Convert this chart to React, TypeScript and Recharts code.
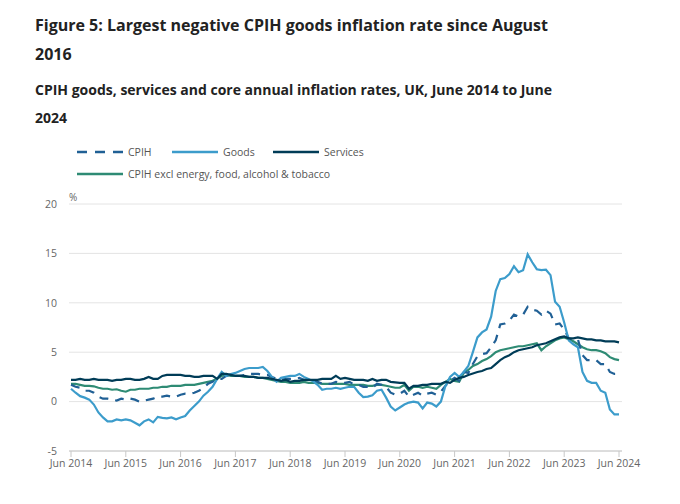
import { LineChart, Line, XAxis, YAxis, CartesianGrid } from 'recharts';

// Monthly annual rates, Jun 2014 .. Jun 2024 (121 points)
const cpih = [
  1.7, 1.5, 1.4, 1.1, 1.1, 0.9, 0.5,
  0.3, 0.3, 0.2, 0.1, 0.3, 0.2, 0.3, 0.2, 0.0, 0.1, 0.2, 0.3,
  0.5, 0.5, 0.6, 0.5, 0.5, 0.7, 0.8, 0.8, 0.9, 1.1, 1.4, 1.8,
  2.0, 2.3, 2.3, 2.6, 2.7, 2.6, 2.6, 2.7, 2.8, 2.8, 2.8, 2.7,
  2.7, 2.5, 2.3, 2.2, 2.3, 2.3, 2.3, 2.4, 2.2, 2.2, 2.2, 2.0,
  1.8, 1.8, 1.8, 2.0, 1.9, 1.9, 2.0, 1.7, 1.7, 1.5, 1.5, 1.4,
  1.8, 1.7, 1.5, 0.9, 0.7, 0.8, 1.1, 0.5, 0.7, 0.9, 0.6, 0.8,
  0.9, 0.7, 1.0, 1.6, 2.1, 2.4, 2.1, 3.0, 2.9, 3.8, 4.6, 4.8,
  4.9, 5.5, 6.2, 7.8, 7.9, 8.2, 8.8, 8.6, 8.8, 9.6, 9.3, 9.2,
  8.8, 9.2, 8.9, 7.8, 7.9, 7.3, 6.4, 6.3, 6.3, 4.7, 4.2, 4.2,
  4.2, 3.8, 3.8, 3.0, 2.8, 2.8,
];

const goods = [
  1.3, 0.9, 0.55, 0.4, 0.2, -0.3, -1.1,
  -1.6, -2.0, -2.0, -1.8, -1.9, -1.8, -1.9, -2.15, -2.4, -2.0, -1.8, -2.1,
  -1.55, -1.65, -1.7, -1.6, -1.8, -1.6, -1.45, -0.9, -0.45, 0.0, 0.6, 1.0,
  1.5, 2.3, 3.0, 2.6, 2.8, 2.9, 3.1, 3.3, 3.4, 3.4, 3.4, 3.5,
  3.1, 2.5, 2.0, 2.4, 2.5, 2.6, 2.6, 2.8, 2.5, 2.3, 2.05, 1.7,
  1.2, 1.3, 1.3, 1.4, 1.3, 1.4, 1.5, 1.5, 0.9, 0.45, 0.5, 0.65,
  1.1, 1.2, 0.4, -0.5, -0.9, -0.6, -0.3, -0.1, 0.0, -0.1, -0.7, -0.1,
  -0.2, -0.5, 0.0, 1.6, 2.5, 2.9, 2.5, 3.0, 3.6, 5.0, 6.5, 7.0,
  7.3, 8.6, 11.2, 12.4, 12.5, 12.9, 13.7, 13.1, 13.3, 14.9, 14.1, 13.4,
  13.3, 13.35, 12.8, 10.1, 9.6, 8.0, 6.2, 5.8, 5.5, 3.0, 2.1, 1.9,
  1.9, 1.1, 0.9, -0.8, -1.3, -1.3,
];

const services = [
  2.2, 2.2, 2.3, 2.2, 2.2, 2.3, 2.2,
  2.2, 2.2, 2.1, 2.2, 2.2, 2.3, 2.3, 2.2, 2.2, 2.3, 2.5, 2.3,
  2.3, 2.6, 2.7, 2.7, 2.7, 2.7, 2.6, 2.6, 2.5, 2.5, 2.6, 2.6,
  2.6, 2.3, 2.8, 2.8, 2.7, 2.6, 2.6, 2.6, 2.5, 2.5, 2.4, 2.4,
  2.4, 2.3, 2.2, 2.1, 2.2, 2.0, 2.1, 2.1, 2.2, 2.2, 2.2, 2.2,
  2.3, 2.3, 2.3, 2.6, 2.3, 2.4, 2.3, 2.2, 2.2, 2.2, 2.1, 2.3,
  2.1, 2.2, 2.2, 2.0, 1.95, 1.9, 1.9, 1.3, 1.6, 1.6, 1.7, 1.7,
  1.8, 1.8, 1.8, 2.0, 1.9, 2.2, 2.4, 2.5, 2.7, 2.85, 3.0, 3.1,
  3.3, 3.4, 3.8, 4.2, 4.5, 4.7, 5.0, 5.2, 5.3, 5.4, 5.5, 5.7,
  5.8, 5.9, 6.1, 6.3, 6.5, 6.6, 6.4, 6.4, 6.5, 6.4, 6.3, 6.3,
  6.2, 6.2, 6.1, 6.1, 6.1, 6.0,
];

const core = [
  1.8, 1.8, 1.7, 1.6, 1.6, 1.55, 1.4,
  1.3, 1.3, 1.2, 1.25, 1.1, 1.0, 1.2, 1.2, 1.3, 1.3, 1.3, 1.4,
  1.4, 1.5, 1.5, 1.6, 1.6, 1.6, 1.7, 1.7, 1.7, 1.8, 1.9, 2.0,
  2.1, 2.3, 2.6, 2.7, 2.6, 2.6, 2.6, 2.5, 2.5, 2.5, 2.4, 2.4,
  2.3, 2.2, 2.1, 2.0, 2.0, 1.9, 1.9, 1.9, 2.0, 1.9, 1.9, 1.9,
  1.8, 1.8, 1.8, 1.8, 1.8, 1.8, 1.7, 1.7, 1.7, 1.7, 1.6, 1.6,
  1.7, 1.7, 1.6, 1.5, 1.4, 1.4, 1.7, 1.1, 1.5, 1.5, 1.4, 1.5,
  1.4, 1.3, 1.7, 2.0, 2.3, 2.1, 2.0, 2.9, 3.2, 3.6, 3.8, 4.1,
  4.3, 4.6, 5.0, 5.2, 5.3, 5.4, 5.5, 5.6, 5.6, 5.7, 5.8, 5.9,
  5.2, 5.6, 5.9, 6.2, 6.4, 6.5, 6.3, 6.1, 5.8, 5.5, 5.3, 5.2,
  5.2, 5.1, 4.9, 4.5, 4.3, 4.2,
];

const tickLabels = [
  'Jun 2014', 'Jun 2015', 'Jun 2016', 'Jun 2017', 'Jun 2018', 'Jun 2019',
  'Jun 2020', 'Jun 2021', 'Jun 2022', 'Jun 2023', 'Jun 2024',
];
const xTicks = tickLabels.map((_, k) => k * 12);
const yTicks = [-5, 0, 5, 10, 15, 20];

const data = cpih.map((v, i) => ({
  i,
  cpih: v,
  goods: goods[i],
  services: services[i],
  core: core[i],
}));

const C_CPIH = '#206095';
const C_GOODS = '#3c9ccb';
const C_SERV = '#003c57';
const C_CORE = '#2e8b74';

const font = '"Open Sans", "Noto Sans", sans-serif';

function Swatch({ color, dashed, w }: { color: string; dashed?: boolean; w: number }) {
  return (
    <svg width={w} height={8} style={{ marginRight: 5, verticalAlign: 'middle' }}>
      <line
        x1={0}
        y1={4}
        x2={w}
        y2={4}
        stroke={color}
        strokeWidth={2.5}
        strokeDasharray={dashed ? '10 8' : undefined}
      />
    </svg>
  );
}

export default function App() {
  const legendText = { fontSize: 10.5, color: '#555' };
  return (
    <div
      style={{
        position: 'absolute',
        left: 0,
        top: 0,
        width: 680,
        height: 504,
        background: '#fff',
        fontFamily: font,
      }}
    >
      <div
        style={{
          position: 'absolute',
          left: 35,
          top: 11,
          fontSize: 16,
          fontWeight: 700,
          color: '#222',
          lineHeight: '29px',
        }}
      >
        <div>Figure 5: Largest negative CPIH goods inflation rate since August</div>
        <div>2016</div>
      </div>
      <div
        style={{
          position: 'absolute',
          left: 35,
          top: 76,
          fontSize: 14,
          fontWeight: 700,
          color: '#222',
          lineHeight: '28px',
        }}
      >
        <div>CPIH goods, services and core annual inflation rates, UK, June 2014 to June</div>
        <div>2024</div>
      </div>
      <div style={{ position: 'absolute', left: 77, top: 142, lineHeight: '20px' }}>
        <div style={{ display: 'flex', alignItems: 'center' }}>
          <Swatch color={C_CPIH} dashed w={46} />
          <span style={{ ...legendText, width: 44 }}>CPIH</span>
          <Swatch color={C_GOODS} w={46} />
          <span style={{ ...legendText, width: 50 }}>Goods</span>
          <Swatch color={C_SERV} w={46} />
          <span style={legendText}>Services</span>
        </div>
        <div style={{ display: 'flex', alignItems: 'center', marginTop: 2 }}>
          <Swatch color={C_CORE} w={46} />
          <span style={legendText}>CPIH excl energy, food, alcohol &amp; tobacco</span>
        </div>
      </div>
      <div style={{ position: 'absolute', left: 69, top: 190, fontSize: 10, color: '#666' }}>%</div>
      <div style={{ position: 'absolute', left: 0, top: 0 }}>
        <LineChart
          width={680}
          height={504}
          data={data}
          margin={{ top: 204, right: 58, bottom: 32, left: 10 }}
        >
          <CartesianGrid vertical={false} stroke="#e4e4e4" />
          <XAxis
            dataKey="i"
            type="number"
            domain={[0, 120]}
            ticks={xTicks}
            tickFormatter={(v: number) => tickLabels[v / 12]}
            interval={0}
            padding={{ left: 2, right: 3 }}
            stroke="#c8c8c8"
            tickSize={6}
            tickMargin={3}
            tick={{ fontSize: 10.5, fill: '#666', fontFamily: font }}
            height={21}
          />
          <YAxis
            domain={[-5, 20]}
            ticks={yTicks}
            axisLine={false}
            tickLine={false}
            width={59}
            tick={{ fontSize: 10.5, fill: '#666', fontFamily: font }}
            tickMargin={6}
          />
          <Line
            dataKey="core"
            stroke={C_CORE}
            strokeWidth={2.2}
            dot={false}
            isAnimationActive={false}
          />
          <Line
            dataKey="cpih"
            stroke={C_CPIH}
            strokeWidth={2.2}
            strokeDasharray="9 7"
            dot={false}
            isAnimationActive={false}
          />
          <Line
            dataKey="goods"
            stroke={C_GOODS}
            strokeWidth={2.2}
            dot={false}
            isAnimationActive={false}
          />
          <Line
            dataKey="services"
            stroke={C_SERV}
            strokeWidth={2.2}
            dot={false}
            isAnimationActive={false}
          />
        </LineChart>
      </div>
    </div>
  );
}
